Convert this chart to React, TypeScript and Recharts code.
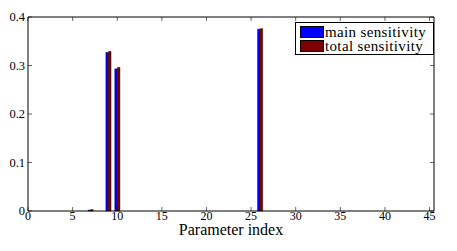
import { BarChart, Bar, XAxis, YAxis, ReferenceLine } from 'recharts';

// ── Data ──────────────────────────────────────────────────────

const PARAM_INDEX = Array.from({ length: 45 }, (_, i) => i + 1);

// non-zero sensitivities, everything else is ~0
const MAIN_SENS: Record<number, number> = { 7: 0.002, 9: 0.327, 10: 0.293, 26: 0.375 };
const TOTAL_SENS: Record<number, number> = { 7: 0.003, 9: 0.329, 10: 0.296, 26: 0.376 };

const X_TICKS = [0, 5, 10, 15, 20, 25, 30, 35, 40, 45];
const Y_TICKS = [0, 0.1, 0.2, 0.3, 0.4];

const SERIES = [
    { key: 'main', name: 'main sensitivity', color: '#0000ff' },
    { key: 'total', name: 'total sensitivity', color: '#7f0000' },
];

const data = PARAM_INDEX.map(idx => ({
    idx,
    main: MAIN_SENS[idx] ?? 0,
    total: TOTAL_SENS[idx] ?? 0,
}));

// ── Layout ────────────────────────────────────────────────────

const FONT = '"Liberation Serif", "Times New Roman", serif';
const W = 457, H = 251;
const MARGIN = { top: 17, right: 23, left: 0, bottom: 0 };
const Y_AXIS_W = 28;
const X_AXIS_H = 40;
const PLOT_TOP = MARGIN.top;
const PLOT_BOTTOM = H - X_AXIS_H;
const PLOT_LEFT = Y_AXIS_W;
const PLOT_RIGHT = W - MARGIN.right;
const TICK = 4;
const X_DOMAIN: [number, number] = [0, 45.5];
const Y_DOMAIN: [number, number] = [0, 0.4];

// inward ticks, mirrored on the opposite side (MATLAB "box on")
function XTick({ x, payload }: any) {
    return (
        <g>
            <line x1={x} x2={x} y1={PLOT_BOTTOM} y2={PLOT_BOTTOM - TICK} stroke="#000" strokeWidth={0.6} />
            <line x1={x} x2={x} y1={PLOT_TOP} y2={PLOT_TOP + TICK} stroke="#000" strokeWidth={0.6} />
            <text x={x} y={PLOT_BOTTOM + 9} textAnchor="middle" fill="#000" style={{ fontFamily: FONT, fontSize: 12 }}>
                {payload.value}
            </text>
        </g>
    );
}

function YTick({ y, payload }: any) {
    return (
        <g>
            <line x1={PLOT_LEFT} x2={PLOT_LEFT + TICK} y1={y} y2={y} stroke="#000" strokeWidth={0.6} />
            <line x1={PLOT_RIGHT} x2={PLOT_RIGHT - TICK} y1={y} y2={y} stroke="#000" strokeWidth={0.6} />
            <text x={PLOT_LEFT - 3} y={y + 4} textAnchor="end" fill="#000" style={{ fontFamily: FONT, fontSize: 12.5 }}>
                {payload.value}
            </text>
        </g>
    );
}

// ── Legend box ────────────────────────────────────────────────

function LegendBox() {
    return (
        <div style={{
            position: 'absolute', left: 295, top: 22,
            border: '1px solid #000', background: '#fff', padding: '2px 2px 1px 4px',
            fontFamily: FONT, fontSize: 15, letterSpacing: 0.35, lineHeight: '14px', width: 131, height: 28,
        }}>
            {SERIES.map(s => (
                <div key={s.key} style={{ display: 'flex', alignItems: 'center', height: 14, whiteSpace: 'nowrap' }}>
                    <span style={{ display: 'inline-block', width: 22, height: 10, background: s.color, border: '0.5px solid #000', marginRight: 1 }} />
                    <span>{s.name}</span>
                </div>
            ))}
        </div>
    );
}

// ── Component ─────────────────────────────────────────────────

export default function App() {
    return (
        <div style={{ position: 'absolute', left: 0, top: 0, width: W, height: H, background: '#fff' }}>
            <BarChart
                width={W} height={H} data={data} margin={MARGIN}
                barGap={0} barSize={2.6} style={{ fontFamily: FONT }}
            >
                <XAxis type="number" dataKey="idx" domain={X_DOMAIN} ticks={X_TICKS}
                    allowDataOverflow height={X_AXIS_H} tickLine={false}
                    axisLine={{ stroke: '#000' }} tick={<XTick />} interval={0}
                    label={{ value: 'Parameter index', position: 'insideBottom', offset: 16, fill: '#000', fontSize: 16, fontFamily: FONT }} />
                <YAxis domain={Y_DOMAIN} ticks={Y_TICKS} width={Y_AXIS_W} tickLine={false}
                    axisLine={{ stroke: '#000' }} tick={<YTick />} interval={0} />
                <ReferenceLine y={0.4} stroke="#000" ifOverflow="extendDomain" />
                <ReferenceLine x={45.5} stroke="#000" ifOverflow="extendDomain" />
                {SERIES.map(s => (
                    <Bar key={s.key} dataKey={s.key} name={s.name} fill={s.color}
                        stroke="#000" strokeWidth={0.4} isAnimationActive={false} />
                ))}
            </BarChart>
            <LegendBox />
        </div>
    );
}
